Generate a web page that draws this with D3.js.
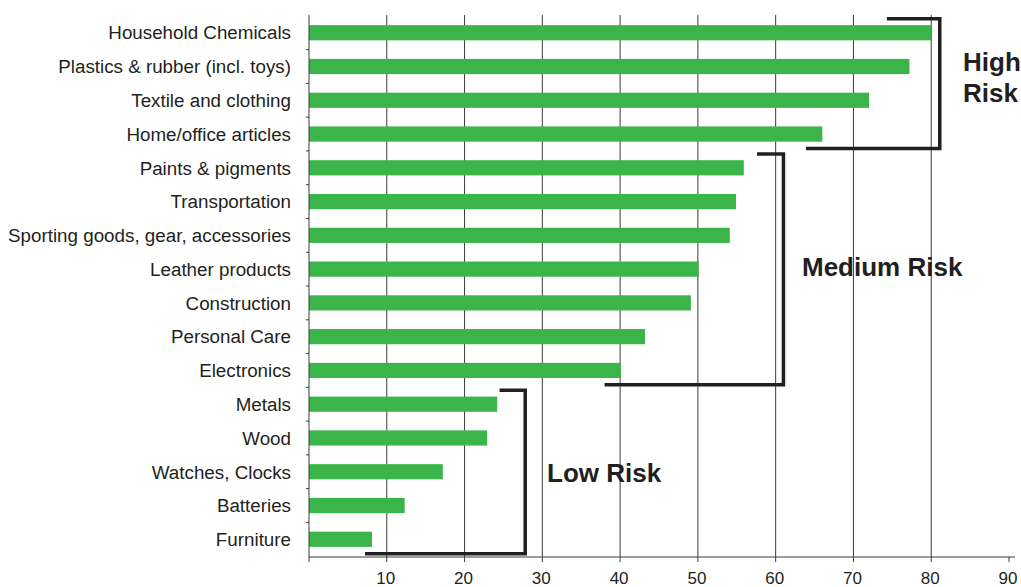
<!DOCTYPE html>
<html>
<head>
<meta charset="utf-8">
<script src="https://cdn.jsdelivr.net/npm/d3@7"></script>
<style>
  body { margin: 0; background: #fff; }
  text { font-family: "Liberation Sans", Arial, sans-serif; fill: #231f20; }
</style>
</head>
<body>
<div id="chart"></div>
<script>
// categories top to bottom, and their values
const categories = [
  "Household Chemicals", "Plastics & rubber (incl. toys)", "Textile and clothing",
  "Home/office articles", "Paints & pigments", "Transportation",
  "Sporting goods, gear, accessories", "Leather products", "Construction",
  "Personal Care", "Electronics", "Metals", "Wood", "Watches, Clocks",
  "Batteries", "Furniture"
];
const values = [80, 77.2, 72, 66, 55.9, 54.9, 54.1, 50.1, 49.1, 43.2, 40.1, 24.2, 22.9, 17.2, 12.3, 8.1];
const xTicks = [10, 20, 30, 40, 50, 60, 70, 80, 90];

// risk groups: first/last category, where the bracket arms start and where it closes
const riskNames = ["High Risk", "Medium Risk", "Low Risk"];
const riskFirst = ["Household Chemicals", "Paints & pigments", "Metals"];
const riskLast = ["Home/office articles", "Electronics", "Furniture"];
const riskTopArm = [74.3, 57.6, 24.5];
const riskBottomArm = [63.9, 38, 7.2];
const riskEdge = [81.1, 61, 27.8];

const width = 1021, height = 587;
const margin = {top: 15, right: 8, bottom: 30, left: 309};

const svg = d3.select("#chart").append("svg")
  .attr("width", width)
  .attr("height", height);

const x = d3.scaleLinear()
  .domain([0, 90])
  .range([margin.left, margin.left + 700]);

const y = d3.scaleBand()
  .domain(categories)
  .range([margin.top, height - margin.bottom])
  .paddingInner(0.55)
  .paddingOuter(0.3);

// vertical grid lines
svg.append("g")
  .selectAll("line")
  .data(xTicks.slice(0, -1))
  .join("line")
    .attr("x1", d => x(d)).attr("x2", d => x(d))
    .attr("y1", margin.top).attr("y2", height - margin.bottom)
    .attr("stroke", "#3a3a3a")
    .attr("stroke-width", 1);

// bars
svg.append("g")
  .selectAll("rect")
  .data(categories)
  .join("rect")
    .attr("x", x(0))
    .attr("y", d => y(d))
    .attr("width", (d, i) => x(values[i]) - x(0))
    .attr("height", y.bandwidth())
    .attr("fill", "#3bb54a");

// bottom axis
const xAxis = svg.append("g")
  .attr("transform", `translate(0,${height - margin.bottom})`);
xAxis.append("line")
  .attr("x1", x(0)).attr("x2", x(90) + 6)
  .attr("stroke", "#3a3a3a");
xAxis.selectAll(".tk")
  .data([0].concat(xTicks))
  .join("line")
    .attr("x1", d => x(d)).attr("x2", d => x(d))
    .attr("y1", 0).attr("y2", 5)
    .attr("stroke", "#3a3a3a");
xAxis.selectAll("text")
  .data(xTicks)
  .join("text")
    .attr("x", d => x(d) - 1)
    .attr("y", 27)
    .attr("text-anchor", "middle")
    .style("font-size", "17px")
    .text(d => d);

// left axis
const step = y.step();
svg.append("line")
  .attr("x1", x(0)).attr("x2", x(0))
  .attr("y1", margin.top).attr("y2", height - margin.bottom)
  .attr("stroke", "#3a3a3a");
svg.append("g")
  .selectAll("line")
  .data(categories.slice(0, -1))
  .join("line")
    .attr("x1", x(0) - 3).attr("x2", x(0))
    .attr("y1", d => y(d) + y.bandwidth() / 2 + step / 2)
    .attr("y2", d => y(d) + y.bandwidth() / 2 + step / 2)
    .attr("stroke", "#3a3a3a");
svg.append("g")
  .selectAll("text")
  .data(categories)
  .join("text")
    .attr("x", x(0) - 18)
    .attr("y", d => y(d) + y.bandwidth() / 2)
    .attr("dy", "0.36em")
    .attr("text-anchor", "end")
    .style("font-size", "18.8px")
    .text(d => d);

// risk brackets
const brackets = svg.append("g");
riskNames.forEach((name, i) => {
  const y0 = y(riskFirst[i]) + y.bandwidth() / 2 - step / 2 + 3;
  const y1 = y(riskLast[i]) + y.bandwidth() / 2 + step / 2 - 2.5;
  brackets.append("path")
    .attr("d", `M${x(riskTopArm[i])},${y0}H${x(riskEdge[i])}V${y1}H${x(riskBottomArm[i])}`)
    .attr("fill", "none")
    .attr("stroke", "#231f20")
    .attr("stroke-width", 3.5);
});

// risk labels
const lab = svg.append("g").style("font-weight", "bold").style("font-size", "26px");
lab.append("text").attr("x", 963).attr("y", 71).text("High");
lab.append("text").attr("x", 963).attr("y", 102).text("Risk");
lab.append("text").attr("x", 802).attr("y", 276).text("Medium Risk");
lab.append("text").attr("x", 547).attr("y", 482).text("Low Risk");
</script>
</body>
</html>
